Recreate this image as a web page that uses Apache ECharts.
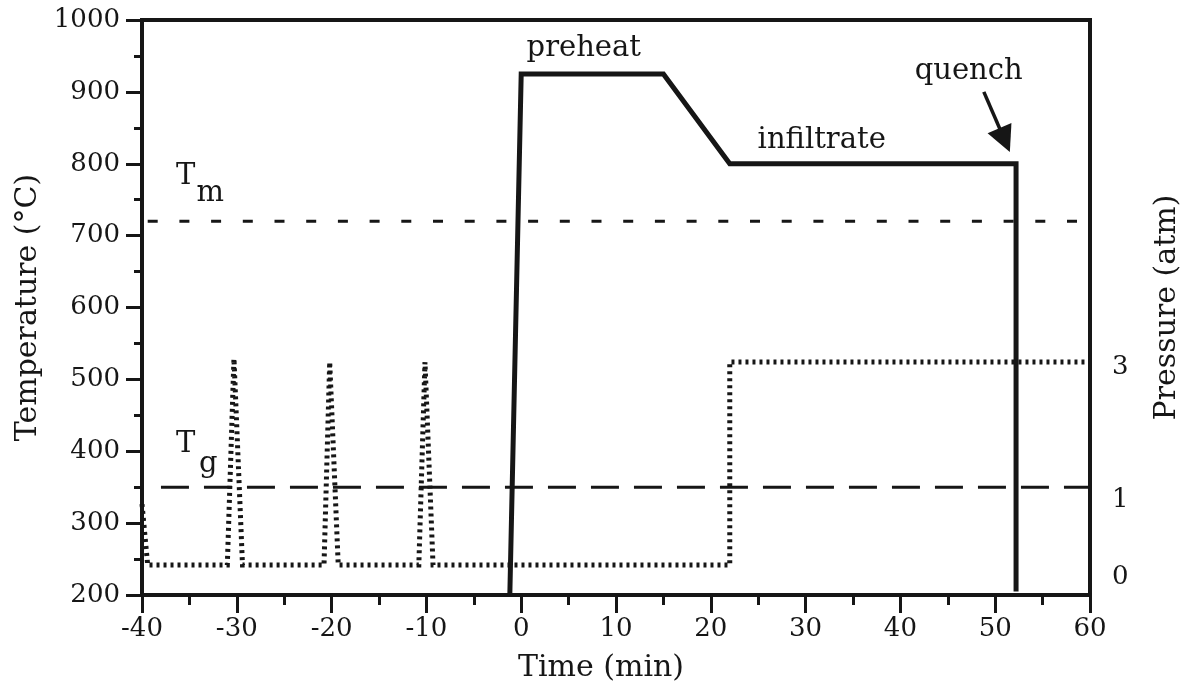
<!DOCTYPE html>
<html>
<head>
<meta charset="utf-8">
<script src="https://cdn.jsdelivr.net/npm/echarts@6/dist/echarts.min.js"></script>
<style>
  html, body { margin: 0; padding: 0; background: #ffffff; }
  #chart { width: 1190px; height: 692px; }
</style>
</head>
<body>
<div id="chart"></div>
<script>
// Furnace temperature schedule: [time (min), temperature (°C)]
const temperatureSchedule = [[-1.2, 200], [0, 925], [15, 925], [22, 800], [52.2, 800], [52.2, 205]];

// Applied gas pressure: [time (min), pressure (atm)]
const pressureSchedule = [
  [-40, 0.9], [-39.4, 0],
  [-31.0, 0], [-30.3, 3.05], [-29.4, 0],
  [-20.8, 0], [-20.2, 3], [-19.3, 0],
  [-10.8, 0], [-10.15, 3], [-9.3, 0],
  [22, 0], [22, 3], [60, 3]
];

// Reference temperatures (°C)
const meltingTemp = 720;
const glassTemp = 350;
const meltingLine = [[-40, meltingTemp], [60, meltingTemp]];
const glassLine = [[-38, glassTemp], [60, glassTemp]];

// Pressure values labelled on the right axis
const pressureTicks = [0, 1, 3];

// Stage annotations (text, time, temperature)
const noteText = ['preheat', 'infiltrate', 'quench'];
const noteTime = [6.6, 31.7, 47.2];
const noteTemp = [961, 833, 929];

// Quench arrow: from -> to (time, temperature)
const quenchArrow = [[48.8, 900], [51.0, 833]];

// Symbols for the two reference lines: main letter and subscript
const symbolMain = ['T', 'T'];
const symbolSub = ['m', 'g'];
const symbolMainAt = [[-35.4, 782], [-35.4, 409]];
const symbolSubAt = [[-32.8, 758], [-33.0, 382]];

const FONT = 'DejaVu Serif';
const INK = '#161616';

const noteData = noteText.map((t, i) => ({ name: t, value: [noteTime[i], noteTemp[i]] }))
  .concat(symbolMain.map((t, i) => ({ name: t, value: symbolMainAt[i] })))
  .concat(symbolSub.map((t, i) => ({ name: t, value: symbolSubAt[i] })));

const pressureShift = { 0: 24, 1: 6, 3: 10 };

const chart = echarts.init(document.getElementById('chart'), null, { renderer: 'canvas' });

chart.setOption({
  animation: false,
  backgroundColor: '#ffffff',
  grid: {
    left: 142, right: 100, top: 20, bottom: 97,
    show: true, borderColor: INK, borderWidth: 4, backgroundColor: 'transparent'
  },
  xAxis: {
    type: 'value', min: -40, max: 60, interval: 10,
    name: 'Time (min)', nameLocation: 'middle', nameGap: 58,
    nameTextStyle: { fontFamily: FONT, fontSize: 30, color: INK, padding: [0, 30, 0, 0] },
    axisLine: { show: true, onZero: false, lineStyle: { color: INK, width: 4 } },
    axisTick: { show: true, inside: false, length: 18, lineStyle: { color: INK, width: 3 } },
    minorTick: { show: true, splitNumber: 2, length: 10, lineStyle: { color: INK, width: 3 } },
    axisLabel: { fontFamily: FONT, fontSize: 26, color: INK, margin: 21, formatter: v => String(v) },
    splitLine: { show: false }
  },
  yAxis: [
    {
      type: 'value', min: 200, max: 1000, interval: 100, position: 'left',
      name: 'Temperature (°C)', nameLocation: 'middle', nameGap: 93, nameRotate: 90,
      nameTextStyle: { fontFamily: FONT, fontSize: 30, color: INK },
      axisLine: { show: true, onZero: false, lineStyle: { color: INK, width: 4 } },
      axisTick: { show: true, inside: false, length: 16, lineStyle: { color: INK, width: 3 } },
      minorTick: { show: true, splitNumber: 2, length: 8, lineStyle: { color: INK, width: 3 } },
      axisLabel: { fontFamily: FONT, fontSize: 26, color: INK, margin: 22, formatter: v => String(v) },
      splitLine: { show: false }
    },
    {
      type: 'value', min: -0.443, max: 8.054, position: 'right',
      name: 'Pressure (atm)', nameLocation: 'middle', nameGap: 62, nameRotate: 90,
      nameTextStyle: { fontFamily: FONT, fontSize: 30, color: INK },
      axisLine: { show: true, onZero: false, lineStyle: { color: INK, width: 4 } },
      axisTick: { show: false },
      axisLabel: {
        customValues: pressureTicks,
        fontFamily: FONT, fontSize: 26, color: INK, margin: 22,
        formatter: v => '{p' + v + '|' + v + '}',
        rich: Object.fromEntries(pressureTicks.map(v => ['p' + v, {
          fontFamily: FONT, fontSize: 26, color: INK, padding: [pressureShift[v], 0, 0, 0]
        }]))
      },
      splitLine: { show: false }
    }
  ],
  series: [
    {
      name: 'Tm', type: 'line', data: meltingLine, showSymbol: false, silent: true,
      lineStyle: { color: INK, width: 3, type: [10, 21.7], dashOffset: 26 }, z: 2
    },
    {
      name: 'Tg', type: 'line', data: glassLine, showSymbol: false, silent: true,
      lineStyle: { color: INK, width: 3, type: [28, 15] }, z: 2
    },
    {
      name: 'Pressure', type: 'line', yAxisIndex: 1, data: pressureSchedule,
      showSymbol: false, silent: true,
      lineStyle: { color: INK, width: 5, type: [3, 4], cap: 'butt', join: 'miter' }, z: 3
    },
    {
      name: 'Temperature', type: 'line', data: temperatureSchedule,
      showSymbol: false, silent: true,
      lineStyle: { color: INK, width: 5, join: 'miter' }, z: 4
    },
    {
      name: 'Quench arrow', type: 'line', data: [], silent: true,
      markLine: {
        silent: true, animation: false,
        symbol: ['none', 'triangle'], symbolSize: 26,
        label: { show: false },
        itemStyle: { color: INK },
        lineStyle: { color: INK, width: 3.5, type: 'solid', opacity: 1 },
        data: [[{ coord: quenchArrow[0] }, { coord: quenchArrow[1] }]]
      }
    },
    {
      name: 'Notes', type: 'scatter', data: noteData, symbolSize: 0, silent: true, clip: false,
      itemStyle: { opacity: 1 },
      label: {
        show: true, position: 'inside', formatter: p => p.name,
        fontFamily: FONT, fontSize: 29, color: INK, opacity: 1,
        textBorderWidth: 0
      }, z: 5
    }
  ]
});
</script>
</body>
</html>
